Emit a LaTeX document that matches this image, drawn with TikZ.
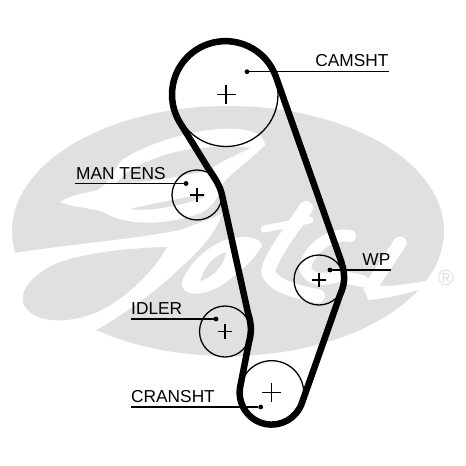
\documentclass[tikz,border=0pt]{standalone}
\usepackage{fontspec}
\setmainfont{Liberation Sans}
\definecolor{logogrey}{HTML}{E0E0E0}
\tikzset{
  pulley/.style={circle,draw,line width=1.3pt,inner sep=0pt,outer sep=0pt},
  belt/.style={line width=6.5pt,line join=round},
  lead/.style={line width=1.2pt},
  leaddot/.style={circle,fill,inner sep=1.7pt,outer sep=0pt},
  partlabel/.style={font=\fontsize{17.3}{17.3}\selectfont,inner sep=0pt},
  cutout/.style={fill=white,draw=none},
  stroke/.style={draw=white,line cap=round,line join=round}
}
\begin{document}
\begin{tikzpicture}[>=stealth, x=1pt, y=1pt, yscale=-1]
  \useasboundingbox (0,0) rectangle (466,466);
  % logo
  \fill[logogrey] (228,231) ellipse[x radius=216pt, y radius=125pt];
  \fill[cutout] (265,145) .. controls (265,133) and (245,127) .. (222,129)
    .. controls (185,131) and (145,145) .. (122,160) .. controls (112,172) and (110,182) .. (98,190)
    .. controls (85,193) and (68,196) .. (60,202) .. controls (75,208) and (95,208) .. (105,213)
    .. controls (125,225) and (165,227) .. (203,212) .. controls (215,205) and (222,190) .. (223,183)
    .. controls (235,170) and (250,160) .. (265,145) -- cycle;
  % grey inside the swirl
  \fill[logogrey] (115,184) -- (127,172) .. controls (145,160) and (175,150) .. (200,148)
    .. controls (220,146) and (238,146) .. (250,148) .. controls (235,156) and (222,160) .. (206,172)
    .. controls (195,173) and (185,175) .. (170,178) .. controls (150,181) and (130,183) .. (115,184) -- cycle;
  \fill[logogrey] (130,209) .. controls (150,204) and (180,199) .. (205,193)
    -- (205,197) .. controls (180,206) and (150,212) .. (130,209) -- cycle;
  % lower left band and stem
  \fill[cutout] (0,256) -- (15,253) .. controls (70,244) and (130,240) .. (180,230)
    -- (207,220) -- (222,214) .. controls (215,235) and (195,255) .. (180,268)
    .. controls (160,288) and (130,310) .. (100,328) -- (60,345) -- (0,345) -- cycle;
  \fill[logogrey] (167,247) .. controls (155,270) and (125,300) .. (95,313)
    .. controls (70,323) and (35,325) .. (24,305) .. controls (18,290) and (35,272) .. (60,262)
    .. controls (90,252) and (130,248) .. (167,247) -- cycle;
  % letters
  \fill[cutout] (225,240) .. controls (205,248) and (188,265) .. (182,282)
    .. controls (180,298) and (205,296) .. (222,285) .. controls (240,272) and (252,262) .. (262,246)
    .. controls (262,238) and (245,234) .. (225,240) -- cycle;
  \fill[logogrey] (200,281) .. controls (205,265) and (215,255) .. (226,252)
    .. controls (225,265) and (212,278) .. (200,281) -- cycle;
  \draw[stroke,line width=14pt] (306,208) .. controls (290,232) and (270,258) .. (268,272) .. controls (272,285) and (295,292) .. (318,296);
  \draw[stroke,line width=7pt] (264,229) -- (310,220);
  \draw[stroke,line width=12pt] (350,236) .. controls (330,232) and (308,250) .. (305,268) .. controls (310,282) and (325,280) .. (338,276) -- (362,281);
  \draw[stroke,line width=13pt] (400,243) -- (370,288);
  \fill[cutout] (363,284) .. controls (380,288) and (405,285) .. (425,281) -- (430,286) .. controls (410,293) and (390,298) .. (368,300) -- cycle;
  \node[text=logogrey,font=\fontsize{22}{22}\selectfont,inner sep=0pt] (regmark) at (446,278) {®};
  % pulleys
  \node[pulley,minimum size=104pt] (cam) at (226,94.5) {};
  \node[pulley,minimum size=50pt] (mantens) at (197,195) {};
  \node[pulley,minimum size=51pt] (idler) at (225,331.5) {};
  \node[pulley,minimum size=64pt] (crank) at (271.7,392.7) {};
  \node[pulley,minimum size=50pt] (wp) at (319,280) {};
  \foreach \n/\s in {cam/9.5,mantens/7.3,idler/7.2,crank/9.7,wp/7.2}
    \draw[line width=1.1pt] ([xshift=-\s pt]\n.center) -- ([xshift=\s pt]\n.center)
      ([yshift=-\s pt]\n.center) -- ([yshift=\s pt]\n.center);
  % belt
  \draw[belt] (275.9,76.7) arc[start angle=-19.6, end angle=-211, radius=53.5pt]
    -- (208,168) .. controls (216,180) and (220,186) .. (222,195)
    -- (248,313) .. controls (251,322) and (252,332) .. (249,342)
    -- (240.3,386.2) arc[start angle=191.5, end angle=19.5, radius=32pt]
    -- (340,295) .. controls (346,282) and (345,272) .. (340,258) -- cycle;
  % labels
  \node[partlabel,anchor=base east] (camlabel) at (388.7,66) {CAMSHT};
  \node[partlabel,anchor=base west] (manlabel) at (76,179) {MAN TENS};
  \node[partlabel,anchor=base west] (idlerlabel) at (131,314) {IDLER};
  \node[partlabel,anchor=base west] (cranklabel) at (131,402) {CRANSHT};
  \node[partlabel,anchor=base east] (wplabel) at (390.5,265) {WP};
  \node[leaddot] (camdot) at (247,71.7) {};
  \node[leaddot] (mandot) at (186,183.5) {};
  \node[leaddot] (idlerdot) at (216,319) {};
  \node[leaddot] (crankdot) at (260.7,407) {};
  \node[leaddot] (wpdot) at (330,270) {};
  \coordinate (camend) at (388.7,71.7);
  \coordinate (manend) at (75,183.5);
  \coordinate (idlerend) at (131,319);
  \coordinate (crankend) at (131,407);
  \coordinate (wpend) at (390.7,270);
  \foreach \n in {cam,man,idler,crank,wp}
    \draw[lead] (\n dot) -- (\n end);
\end{tikzpicture}
\end{document}
